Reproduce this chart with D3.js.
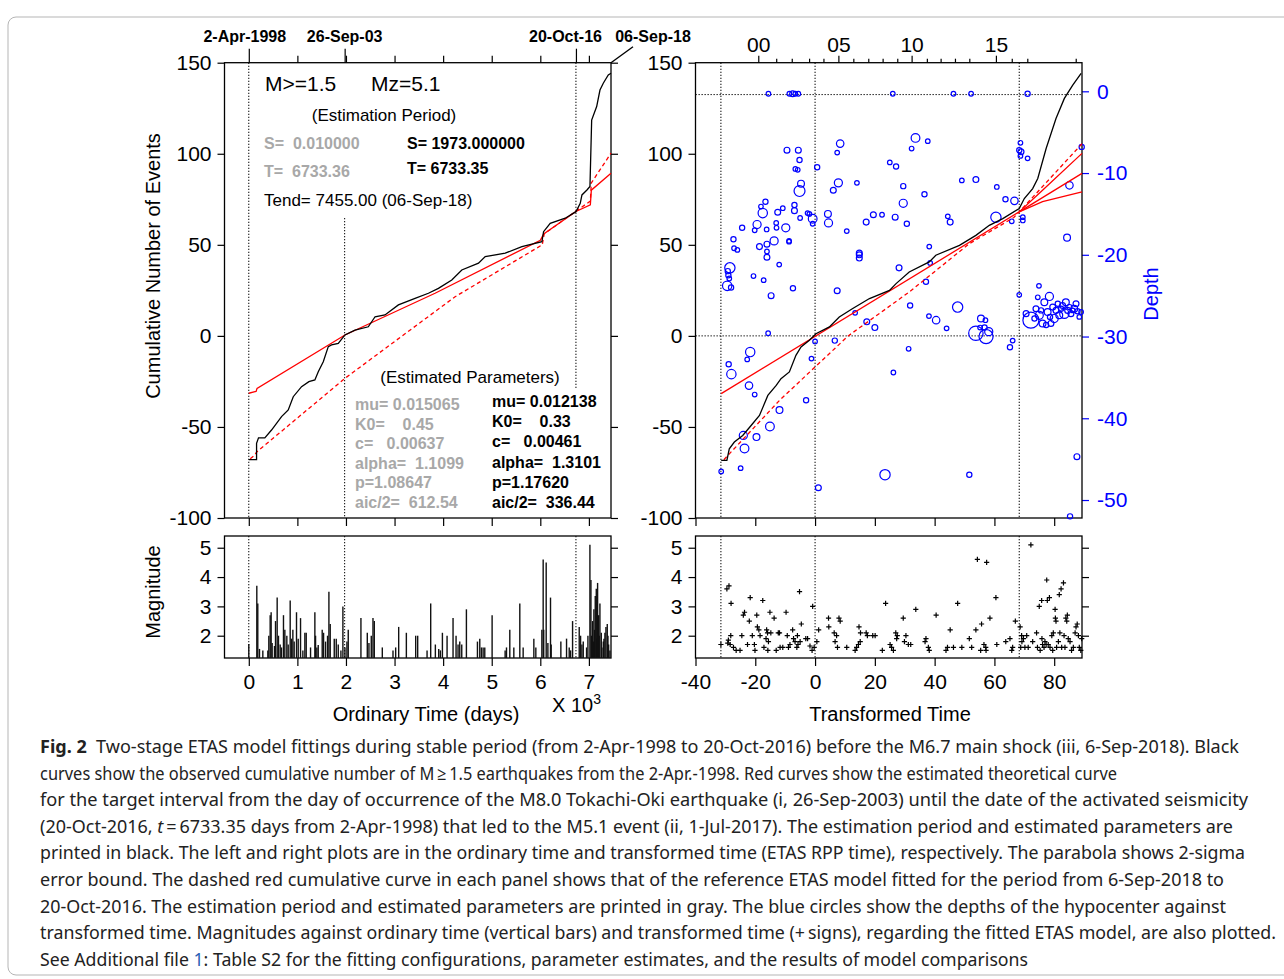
<!DOCTYPE html>
<html>
<head>
<meta charset="utf-8">
<script src="https://cdn.jsdelivr.net/npm/d3@7"></script>
<style>
body { margin: 0; background: #fff; }
svg { font-family: "Liberation Sans", Arial, Helvetica, sans-serif; }
.ax path.domain { display: none; }
.ax line { stroke: #000; stroke-width: 1.2; }
.ax text { font-size: 21px; fill: #000; font-family: "Liberation Sans", Arial, sans-serif; }
.pre { white-space: pre; }
</style>
</head>
<body>
<div id="chart"></div>
<script>

// --- DATA ---

// repères (jours depuis le 2-Apr-1998 / temps transformé)
const markDays = [0, 1973, 6733.35];
const markTau = [-31.5, 0, 68.3];
const refDepth = -0.4;

// axe du haut, temps ordinaire
const dayMinorTicks = [1000, 2000, 3000, 4000, 5000, 6000, 7000];
const dateTicks = [0, 1973, 6733.35];
const dateLabels = ["2-Apr-1998", "26-Sep-03", "20-Oct-16"];
const endDay = 7455;
const endLabel = "06-Sep-18";

// axe du haut, années en temps transformé
const yearTau = [-19.0, -13.0, -7.8, -2.0, 2.8, 7.8, 12.8, 17.8, 22.6, 27.5, 32.3, 37.4, 42.0, 46.8, 51.6, 60.5, 65.8, 71.0, 87.2];
const yearLabeled = { "-19": "00", "7.8": "05", "32.3": "10", "60.5": "15" };

// courbe cumulée observée (temps ordinaire)
const obsDays = [0, 160, 160, 200, 330, 468, 674, 812, 915, 1086, 1237, 1360, 1430, 1533, 1636, 1704, 1842, 1979, 2185, 2460, 2599, 2803, 3079, 3422, 3697, 3903, 4178, 4384, 4728, 4866, 5278, 5621, 6033, 6067, 6204, 6513, 6733, 6822, 6857, 6960, 7022, 7057, 7160, 7228, 7296, 7399, 7455];
const obsCount = [-68, -68, -59, -56, -56, -51.7, -44.3, -40.7, -33.4, -27.9, -25.1, -24.2, -19.7, -14.2, -5.9, -5, -4.1, 0.5, 3.2, 5, 10.5, 11.5, 17, 20.6, 23.4, 26.1, 30.7, 36.2, 39.9, 43.5, 45.4, 49, 51.7, 57.2, 61.8, 64.6, 68.2, 72.8, 77.4, 80.1, 82, 118.5, 125.9, 135, 138.7, 143.3, 144.2];

// ETAS théorique (rouge plein) et référence (rouge pointillé), temps ordinaire
const fitDays = [0, 150, 170, 1979, 3834, 6000, 6070, 6733, 7030, 7050, 7455];
const fitCount = [-31.5, -30.5, -28.8, 0.5, 23.4, 52.5, 56, 68.3, 72, 80, 89.3];
const refDays = [30, 100, 170, 1979, 4246, 6040, 6080, 6733, 7030, 7050, 7455];
const refCount = [-67.5, -66, -63.6, -23.3, 21.5, 50, 56, 68.5, 74, 84, 100.3];

// courbe cumulée observée (temps transformé)
const obsTau = [-31.4, -29.5, -28.7, -27, -24.2, -21.4, -18.6, -15.8, -13, -11.4, -8.6, -6.4, -4.7, -1.9, 0.3, 4.8, 8.1, 12.6, 18.2, 24.9, 27.1, 31.5, 38.2, 40.4, 48.3, 53.8, 58.3, 62.8, 68.3, 70, 72.8, 74.5, 77.3, 80.6, 83.4, 86.2, 89.0];
const obsCountTau = [-68.4, -68.4, -62, -58.3, -54.7, -49.2, -43.7, -32.7, -27.2, -23.5, -19.8, -10.7, -6.1, -2.4, 1.2, 4.9, 10.4, 15, 20.5, 25, 28.7, 35.1, 40.6, 44.3, 49.7, 55.2, 60.7, 64.4, 69.9, 75.4, 80.9, 86.4, 102.9, 119.4, 130.4, 137.7, 144.1];

// droite théorique, bornes 2-sigma et référence (temps transformé)
const fitTau = [-31.4, 68.3];
const fitTauCount = [-31.7, 68.1];
const upperTau = [68.3, 76.1, 89.3];
const upperCount = [68.1, 80, 100.2];
const midTau = [68.3, 89.3];
const midCount = [68.1, 89.2];
const lowerTau = [68.3, 76.1, 89.3];
const lowerCount = [68.1, 73.7, 79.1];
const refTau = [-30.5, -29.2, -11.7, 11.1, 31.5, 51.6, 66.5, 68.3, 89.3];
const refTauCount = [-68, -65.7, -35.1, 0, 24.1, 50.6, 65, 68.1, 105.5];

// magnitudes en temps ordinaire (barres)
const barDays = [0, 165, 185, 220, 289, 392, 412, 440, 460, 481, 529, 550, 584, 611, 646, 673, 714, 742, 783, 811, 852, 879, 907, 934, 982, 1017, 1065, 1113, 1154, 1182, 1271, 1360, 1374, 1401, 1429, 1511, 1539, 1580, 1621, 1649, 1676, 1759, 1800, 1841, 1896, 1937, 1979, 2020, 2047, 2308, 2439, 2473, 2521, 2556, 2583, 2748, 2968, 3023, 3085, 3243, 3435, 3476, 3669, 3744, 3840, 3909, 3943, 3985, 4081, 4204, 4266, 4307, 4342, 4383, 4479, 4706, 4754, 4788, 4823, 4857, 5008, 5276, 5304, 5372, 5455, 5578, 5647, 5867, 5908, 6032, 6059, 6070, 6121, 6156, 6210, 6224, 6423, 6540, 6595, 6623, 6664, 6801, 6829, 6856, 6884, 6952, 6980, 7021, 7042, 7056, 7076, 7090, 7103, 7117, 7131, 7152, 7166, 7179, 7200, 7213, 7227, 7255, 7268, 7296, 7310, 7330, 7351, 7378, 7392, 7406, 7433];
const barMag = [1.72, 3.7, 3.1, 1.55, 1.5, 1.5, 2.0, 2.7, 2.8, 1.75, 1.65, 2.5, 3.3, 2.0, 1.7, 1.6, 2.7, 2.2, 2.0, 1.7, 3.2, 1.9, 2.2, 1.8, 2.8, 1.9, 2.6, 1.5, 2.1, 2.1, 1.6, 2.8, 2.0, 1.6, 1.68, 2.2, 2.1, 1.8, 2.0, 3.5, 2.4, 1.9, 1.9, 1.7, 1.5, 3.0, 1.6, 1.8, 2.2, 2.6, 2.1, 1.75, 2.0, 2.6, 2.5, 1.6, 1.5, 1.6, 2.3, 2.1, 2.0, 2.0, 1.5, 3.1, 1.7, 1.55, 1.5, 2.1, 2.0, 2.6, 2.0, 1.7, 1.8, 1.7, 2.9, 1.8, 1.9, 1.6, 1.6, 1.6, 2.7, 1.5, 1.6, 2.2, 1.6, 3.1, 1.6, 1.9, 1.6, 2.2, 4.6, 2.2, 4.5, 1.75, 3.3, 1.7, 1.8, 1.9, 1.6, 1.5, 2.5, 2.3, 2.0, 1.7, 1.8, 1.6, 2.0, 5.1, 3.9, 2.0, 2.5, 1.8, 2.9, 2.2, 3.35, 3.6, 1.9, 3.8, 2.7, 2.0, 3.1, 2.1, 1.6, 1.8, 1.9, 2.1, 2.3, 2.4, 2.0, 1.7, 1.5];

// magnitudes en temps transformé (+)
const plusTau = [-31.5, -29.5, -28.8, -28.1, -28.2, -29.0, -29.2, -28.4, -27.3, -26.4, -25.1, -24.5, -24.0, -23.6, -22.6, -22.0, -21.7, -21.0, -20.3, -20.1, -19.5, -19.3, -18.8, -18.4, -17.5, -17.1, -16.4, -16.2, -15.9, -15.8, -15.6, -15.1, -14.8, -13.7, -13.0, -12.3, -11.9, -11.7, -10.8, -9.7, -9.3, -8.9, -8.4, -7.5, -7.2, -6.7, -6.1, -5.9, -5.7, -5.2, -5.0, -4.6, -3.1, -2.5, -1.7, -1.0, -0.8, -0.3, 0.6, 1.2, 4.5, 4.6, 6.4, 6.7, 7.2, 7.5, 8.0, 8.4, 10.6, 13.4, 13.9, 14.5, 14.7, 15.1, 15.2, 17.1, 17.5, 19.3, 20.1, 22.5, 23.6, 25.1, 25.6, 26.2, 27.0, 27.3, 27.5, 29.5, 29.9, 30.4, 31.2, 32.0, 33.7, 36.8, 37.1, 37.9, 38.2, 40.5, 43.8, 44.3, 45.2, 46.3, 47.7, 49.1, 51.6, 52.4, 53.8, 54.3, 55.4, 55.7, 56.5, 57.1, 57.2, 57.4, 58.5, 60.5, 60.8, 63.8, 65.2, 65.8, 66.1, 67.0, 68.6, 68.8, 69.1, 69.2, 69.7, 70.2, 70.8, 71.3, 72.2, 72.8, 74.1, 74.4, 75.0, 75.3, 75.8, 75.9, 76.1, 76.6, 76.9, 77.3, 77.5, 77.7, 78.0, 78.4, 78.6, 79.2, 79.5, 79.7, 80.3, 80.4, 80.6, 80.8, 81.4, 81.7, 81.9, 82.3, 82.5, 83.1, 83.3, 83.6, 83.9, 84.2, 84.4, 84.7, 85.3, 85.8, 86.4, 87.0, 87.3, 87.7, 88.1, 88.4, 88.9, 89.2];
const plusMag = [1.7, 3.6, 3.7, 3.1, 2.0, 1.85, 1.75, 1.7, 1.6, 1.5, 1.5, 2.0, 2.7, 2.8, 1.7, 2.5, 3.3, 2.0, 1.7, 1.5, 2.7, 2.3, 2.2, 2.0, 3.2, 1.6, 1.9, 2.2, 2.1, 1.5, 1.8, 2.8, 2.1, 2.6, 1.5, 2.1, 2.1, 1.6, 1.6, 2.8, 2.0, 1.6, 1.7, 2.2, 1.9, 1.8, 1.6, 2.0, 1.7, 3.5, 1.8, 2.4, 1.9, 1.9, 1.65, 1.5, 3.0, 1.6, 1.8, 2.2, 2.6, 2.3, 2.1, 1.8, 2.0, 1.6, 2.6, 2.5, 1.6, 1.5, 1.6, 1.7, 2.3, 1.8, 2.1, 2.1, 2.0, 2.0, 2.0, 1.5, 3.1, 1.7, 1.6, 1.5, 2.1, 1.9, 2.0, 2.6, 1.8, 2.0, 1.7, 1.7, 2.9, 1.8, 1.9, 1.6, 1.5, 2.7, 1.5, 1.6, 2.2, 1.6, 3.1, 1.6, 1.9, 1.6, 2.2, 4.6, 1.5, 2.4, 1.7, 1.6, 1.5, 4.5, 2.6, 3.3, 1.7, 1.8, 1.9, 1.5, 1.6, 2.5, 2.3, 1.6, 2.0, 1.8, 1.9, 1.6, 2.0, 1.6, 5.1, 1.8, 2.1, 1.6, 3.0, 1.5, 3.2, 1.9, 1.7, 1.6, 1.8, 1.7, 3.9, 3.2, 1.7, 3.3, 1.6, 2.0, 1.5, 2.1, 2.9, 2.6, 2.5, 1.6, 1.8, 3.4, 2.1, 3.6, 1.6, 3.8, 2.0, 1.6, 2.6, 2.5, 2.7, 1.9, 1.8, 1.5, 1.6, 2.1, 2.3, 2.4, 2.0, 1.6, 1.5, 1.9];

// profondeurs des hypocentres (cercles) : temps transformé, profondeur, magnitude
const circTau = [-15.6, -8.6, -7.5, -6.6, -5.6, 26.0, 46.3, 52.2, 71.1, 33.6, 8.4, 37.7, -9.4, -5.6, 7.4, 32.3, -5.2, -6.6, -5.8, 0.7, 25.0, 27.1, 68.7, 68.3, 68.9, 68.7, 71.1, -4.7, -5.2, 7.8, 6.1, 14.0, 29.5, 36.6, 49.1, 53.8, 60.8, 85.1, 63.7, 66.7, -16.6, -18.1, -17.5, -12.5, -10.8, -6.9, -6.9, -5.0, -2.5, -1.9, -0.8, -0.8, 4.3, 4.5, 19.5, 22.4, 26.8, 29.5, 30.7, 17.1, 10.6, 44.4, 45.2, 60.5, 65.8, 69.5, 69.5, -24.4, -20.2, -19.4, -16.2, -13.0, -12.9, -9.8, -27.3, -27.1, -26.0, -18.6, -16.1, -13.7, -16.1, -16.1, -8.7, -8.7, -12.0, 38.2, 84.3, 14.8, 14.8, 14.8, -28.5, -29.2, -29.0, -28.7, -29.4, -28.1, -20.6, -17.2, -14.7, -7.4, 7.4, 28.1, 38.5, 37.1, 31.8, 47.7, 38.1, 40.5, 44.0, 55.5, 57.0, 53.8, 57.2, 58.1, 56.7, 55.2, 68.3, 74.9, 72.2, 70.6, 73.9, 74.5, 75.0, 76.7, 78.4, 77.8, 79.5, 80.0, 80.6, 81.7, 82.3, 82.8, 83.4, 83.9, 84.5, 85.1, 85.6, 86.2, 87.3, 87.8, 89.0, 76.1, 78.9, 77.3, 73.4, 81.2, 86.7, 88.4, 75.6, 78.6, -15.7, 0.0, 6.6, 17.3, 20.0, 13.4, 66.1, 65.2, 31.3, -21.7, -22.7, -28.9, -28.0, -1.2, 26.2, -22.1, -20.2, -3.0, -11.9, -24.0, -19.6, -15.1, -23.6, -31.4, -24.9, 1.1, 23.4, 51.6, 87.6, 85.3, 89.2];
const circDepth = [-0.3, -0.3, -0.3, -0.3, -0.3, -0.3, -0.3, -0.3, -0.3, -5.7, -6.4, -6.1, -7.2, -7.2, -7.5, -7.0, -8.4, -9.5, -9.6, -9.3, -8.7, -9.2, -6.3, -7.2, -7.4, -7.9, -8.2, -11.3, -12.2, -11.2, -12.1, -11.2, -11.6, -12.6, -10.9, -10.8, -11.7, -11.5, -13.2, -13.4, -13.5, -14.1, -14.9, -14.8, -14.3, -13.9, -14.6, -15.5, -14.9, -15.0, -15.6, -16.2, -15.0, -16.1, -15.1, -15.1, -15.4, -13.7, -16.2, -16.0, -17.1, -15.3, -16.0, -15.4, -15.9, -15.4, -15.8, -16.7, -17.0, -16.3, -16.9, -16.1, -16.7, -16.7, -18.1, -19.2, -19.4, -19.0, -18.7, -18.3, -19.6, -20.3, -18.3, -18.4, -21.2, -19.0, -17.9, -19.8, -20.0, -20.4, -21.6, -22.0, -22.5, -22.9, -23.8, -24.0, -22.6, -23.1, -25.0, -24.1, -24.4, -21.6, -21.0, -23.3, -26.2, -26.4, -27.5, -28.0, -29.0, -27.8, -28.0, -29.6, -30.0, -29.4, -28.9, -28.9, -24.9, -23.8, -28.0, -27.2, -26.6, -25.2, -27.4, -25.8, -25.1, -27.0, -26.4, -27.8, -26.8, -27.4, -26.6, -26.2, -27.2, -25.8, -26.8, -26.4, -27.2, -26.8, -26.0, -26.9, -27.0, -28.4, -28.4, -28.6, -27.8, -26.0, -26.6, -27.6, -26.8, -27.6, -29.6, -30.6, -30.5, -28.2, -28.9, -27.1, -30.5, -31.3, -31.5, -31.9, -32.8, -33.4, -34.6, -32.7, -34.4, -36.0, -37.1, -37.8, -39.0, -42.1, -42.3, -41.0, -43.7, -46.5, -46.1, -48.5, -46.9, -46.9, -44.7, -52.0, -6.8];
const circMag = [1.5, 1.5, 1.9, 1.5, 1.5, 1.5, 1.5, 1.5, 1.7, 2.8, 2.4, 1.5, 1.9, 1.9, 1.5, 1.5, 1.7, 1.5, 1.5, 1.7, 1.5, 1.7, 1.5, 1.7, 1.9, 1.5, 1.5, 2.2, 3.5, 2.6, 1.9, 1.5, 1.7, 1.7, 1.5, 1.9, 1.5, 2.4, 1.7, 2.4, 1.7, 1.5, 3.0, 1.9, 1.5, 1.7, 1.9, 1.5, 1.5, 1.5, 2.8, 1.5, 2.2, 2.6, 1.9, 1.5, 1.9, 2.6, 1.7, 1.9, 1.5, 1.5, 1.9, 3.3, 1.5, 1.5, 1.5, 1.7, 1.5, 2.6, 1.5, 1.5, 1.5, 2.6, 1.7, 1.5, 1.5, 1.9, 1.9, 2.6, 1.5, 1.9, 1.5, 1.5, 1.5, 1.5, 2.2, 1.9, 1.9, 1.9, 3.3, 1.7, 1.7, 1.5, 3.0, 1.7, 1.5, 1.5, 1.9, 1.7, 1.9, 1.9, 1.5, 1.7, 1.7, 3.3, 1.5, 2.4, 1.5, 2.2, 1.5, 4.6, 4.5, 2.6, 1.7, 1.5, 1.5, 1.5, 5.1, 1.9, 1.9, 1.5, 2.6, 2.2, 2.6, 2.2, 1.9, 2.6, 1.9, 2.2, 1.7, 1.9, 3.0, 2.2, 1.9, 1.7, 1.9, 1.5, 1.9, 1.7, 1.5, 2.2, 1.9, 1.7, 1.7, 1.7, 2.2, 1.5, 1.7, 1.7, 1.5, 1.5, 1.7, 1.9, 1.9, 1.5, 1.5, 1.7, 1.5, 3.0, 1.5, 1.7, 3.0, 1.5, 1.5, 2.4, 1.5, 1.7, 2.2, 2.6, 2.2, 2.8, 2.8, 1.5, 1.5, 1.9, 3.3, 1.7, 1.9, 1.7, 1.7];

// graduations
const cumTicks = [-100, -50, 0, 50, 100, 150];
const magTicks = [2, 3, 4, 5];
const depthTicks = [0, -10, -20, -30, -40, -50];
const dayTicks = [0, 1000, 2000, 3000, 4000, 5000, 6000, 7000];
const tauTicks = [-40, -20, 0, 20, 40, 60, 80];

// textes des paramètres
const estimGray = ["S=  0.010000", "T=  6733.36"];
const estimBlack = ["S= 1973.000000", "T= 6733.35"];
const paramGray = ["mu= 0.015065", "K0=    0.45", "c=   0.00637", "alpha=  1.1099", "p=1.08647", "aic/2=  612.54"];
const paramBlack = ["mu= 0.012138", "K0=    0.33", "c=   0.00461", "alpha=  1.3101", "p=1.17620", "aic/2=  336.44"];

// légende de la figure
const captionLines = [
    [["Fig. 2", "b"], ["  Two-stage ETAS model fittings during stable period (from 2-Apr-1998 to 20-Oct-2016) before the M6.7 main shock (iii, 6-Sep-2018). Black"]],
    [["curves show the observed cumulative number of M\u2009\u2265\u20091.5 earthquakes from the 2-Apr.-1998. Red curves show the estimated theoretical curve"]],
    [["for the target interval from the day of occurrence of the M8.0 Tokachi-Oki earthquake (i, 26-Sep-2003) until the date of the activated seismicity"]],
    [["(20-Oct-2016, "], ["t", "i"], ["\u2009=\u20096733.35 days from 2-Apr-1998) that led to the M5.1 event (ii, 1-Jul-2017). The estimation period and estimated parameters are"]],
    [["printed in black. The left and right plots are in the ordinary time and transformed time (ETAS RPP time), respectively. The parabola shows 2-sigma"]],
    [["error bound. The dashed red cumulative curve in each panel shows that of the reference ETAS model fitted for the period from 6-Sep-2018 to"]],
    [["20-Oct-2016. The estimation period and estimated parameters are printed in gray. The blue circles show the depths of the hypocenter against"]],
    [["transformed time. Magnitudes against ordinary time (vertical bars) and transformed time (+\u2009signs), regarding the fitted ETAS model, are also plotted."]],
    [["See Additional file "], ["1", "l"], [": Table S2 for the fitting configurations, parameter estimates, and the results of model comparisons"]]
];
const captionEnds = [1239, 1117, 1248, 1233, 1245, 1224, 1226, 1276, 1028];


// --- CONSTRUCTION ---

const svg = d3.select("#chart").append("svg")
    .attr("width", 1284)
    .attr("height", 979);

// cadre de la légende
svg.append("rect")
    .attr("x", 8).attr("y", 17).attr("width", 1290).attr("height", 958)
    .attr("rx", 8)
    .attr("fill", "none").attr("stroke", "#b5b5b5").attr("stroke-width", 1);

// Échelles
const panelL = {x0: 224.5, x1: 611};
const panelR = {x0: 695.5, x1: 1082};
const rowTop = {y0: 62.7, y1: 518};
const rowBot = {y0: 536, y1: 658};

const xDay = d3.scaleLinear().domain([-500, endDay]).range([panelL.x0, panelL.x1]);
const xTau = d3.scaleLinear().domain([-40, 89.3]).range([panelR.x0, panelR.x1]);
const yCum = d3.scaleLinear().domain([-100, 150]).range([rowTop.y1, rowTop.y0]);
const yMag = d3.scaleLinear().domain([1.24, 5.4]).range([rowBot.y1, rowBot.y0]);
const yDepth = d3.scaleLinear().domain([-52.2, 3.5]).range([rowTop.y1, rowTop.y0]);
const rMag = d3.scaleLinear().domain([1.5, 5.1]).range([2.3, 8]);

const zip = (a, b) => a.map((v, i) => [v, b[i]]);
const plain = d => String(d);   // trait d'union simple comme signe moins

/**
 * Ajoute un axe avec le style commun
 */
function addAxis(gen, tx, ty, color) {
    const g = svg.append("g").attr("class", "ax")
        .attr("transform", "translate(" + tx + "," + ty + ")")
        .call(gen);
    if (color) {
        g.selectAll("line").style("stroke", color);
        g.selectAll("text").style("fill", color);
    }
    return g;
}

function frame(x0, x1, y0, y1) {
    svg.append("rect")
        .attr("x", x0).attr("y", y0)
        .attr("width", x1 - x0).attr("height", y1 - y0)
        .attr("fill", "none").attr("stroke", "#000").attr("stroke-width", 1.3);
}

function dotted(x1, y1, x2, y2) {
    svg.append("line")
        .attr("x1", x1).attr("y1", y1).attr("x2", x2).attr("y2", y2)
        .attr("stroke", "#000").attr("stroke-width", 1)
        .attr("stroke-dasharray", "1.3,1.7");
}

// --- Axes panneau gauche ---
addAxis(d3.axisLeft(yCum).tickValues(cumTicks).tickSize(7).tickPadding(6).tickFormat(plain).tickSizeOuter(0), panelL.x0, 0);
addAxis(d3.axisRight(yCum).tickValues(cumTicks).tickSize(7).tickFormat("").tickSizeOuter(0), panelL.x1, 0);
addAxis(d3.axisBottom(xDay).tickValues(dayTicks).tickSize(8).tickFormat("").tickSizeOuter(0), 0, rowTop.y1);
addAxis(d3.axisLeft(yMag).tickValues(magTicks).tickSize(7).tickPadding(6).tickFormat(plain).tickSizeOuter(0), panelL.x0, 0);
addAxis(d3.axisRight(yMag).tickValues(magTicks).tickSize(7).tickFormat("").tickSizeOuter(0), panelL.x1, 0);
addAxis(d3.axisBottom(xDay).tickValues(dayTicks).tickSize(8).tickPadding(8).tickFormat(d => String(d / 1000)).tickSizeOuter(0), 0, rowBot.y1);

// axe des dates en haut
addAxis(d3.axisTop(xDay).tickValues(dayMinorTicks).tickSize(7).tickFormat("").tickSizeOuter(0), 0, rowTop.y0);
addAxis(d3.axisTop(xDay).tickValues(dateTicks).tickSize(14).tickFormat("").tickSizeOuter(0), 0, rowTop.y0);
svg.append("line")
    .attr("x1", xDay(endDay)).attr("y1", rowTop.y0)
    .attr("x2", xDay(endDay) + 22).attr("y2", rowTop.y0 - 16)
    .attr("stroke", "#000").attr("stroke-width", 1.4);
const dateAnchor = ["middle", "middle", "end"];
const dateDx = [-4, 0, 26];
dateTicks.forEach((d, i) => {
    svg.append("text")
        .attr("x", xDay(d) + dateDx[i]).attr("y", 42)
        .attr("text-anchor", dateAnchor[i])
        .attr("font-size", 16).attr("font-weight", "bold")
        .text(dateLabels[i]);
});
svg.append("text")
    .attr("x", xDay(endDay) + 42).attr("y", 42)
    .attr("text-anchor", "middle")
    .attr("font-size", 16).attr("font-weight", "bold")
    .text(endLabel);

// --- Axes panneau droit ---
addAxis(d3.axisLeft(yCum).tickValues(cumTicks).tickSize(7).tickPadding(6).tickFormat(plain).tickSizeOuter(0), panelR.x0, 0);
addAxis(d3.axisRight(yDepth).tickValues(depthTicks).tickSize(7).tickPadding(8).tickFormat(plain).tickSizeOuter(0), panelR.x1, 0, "#0000ff");
addAxis(d3.axisBottom(xTau).tickValues(tauTicks).tickSize(8).tickFormat("").tickSizeOuter(0), 0, rowTop.y1);
addAxis(d3.axisLeft(yMag).tickValues(magTicks).tickSize(7).tickPadding(6).tickFormat(plain).tickSizeOuter(0), panelR.x0, 0);
addAxis(d3.axisRight(yMag).tickValues(magTicks).tickSize(7).tickFormat("").tickSizeOuter(0), panelR.x1, 0);
addAxis(d3.axisBottom(xTau).tickValues(tauTicks).tickSize(8).tickPadding(8).tickFormat(plain).tickSizeOuter(0), 0, rowBot.y1);

// axe des années en haut
const labeledTau = yearTau.filter(t => yearLabeled[String(t)]);
addAxis(d3.axisTop(xTau).tickValues(yearTau.filter(t => !yearLabeled[String(t)])).tickSize(4).tickFormat("").tickSizeOuter(0), 0, rowTop.y0);
addAxis(d3.axisTop(xTau).tickValues(labeledTau).tickSize(7).tickPadding(4).tickFormat(t => yearLabeled[String(t)]).tickSizeOuter(0), 0, rowTop.y0);

// --- Cadres ---
frame(panelL.x0, panelL.x1, rowTop.y0, rowTop.y1);
frame(panelL.x0, panelL.x1, rowBot.y0, rowBot.y1);
frame(panelR.x0, panelR.x1, rowTop.y0, rowTop.y1);
frame(panelR.x0, panelR.x1, rowBot.y0, rowBot.y1);

// --- Lignes pointillées de repère ---
// gauche : le texte masque une partie des lignes
dotted(xDay(markDays[0]), rowTop.y0, xDay(markDays[0]), rowTop.y1);
dotted(xDay(markDays[1]), 218, xDay(markDays[1]), rowTop.y1);
dotted(xDay(markDays[2]), rowTop.y0, xDay(markDays[2]), 388);
markDays.forEach(d => dotted(xDay(d), rowBot.y0, xDay(d), rowBot.y1));
// droite
markTau.forEach(t => {
    dotted(xTau(t), rowTop.y0, xTau(t), rowTop.y1);
    dotted(xTau(t), rowBot.y0, xTau(t), rowBot.y1);
});
dotted(panelR.x0, yCum(0), panelR.x1, yCum(0));
dotted(panelR.x0, yDepth(refDepth), panelR.x1, yDepth(refDepth));

// --- Courbes ---
function curve(xs, ys, xScale, color, dash) {
    const line = d3.line().x(d => xScale(d[0])).y(d => yCum(d[1]));
    svg.append("path")
        .datum(zip(xs, ys))
        .attr("d", line)
        .attr("fill", "none")
        .attr("stroke", color)
        .attr("stroke-width", 1.3)
        .attr("stroke-dasharray", dash ? "4,3" : null);
}

curve(refDays, refCount, xDay, "#ff0000", true);
curve(fitDays, fitCount, xDay, "#ff0000", false);
curve(obsDays, obsCount, xDay, "#000", false);

// cercles de profondeur (dessinés sous les courbes)
svg.append("g").selectAll("circle")
    .data(d3.range(circTau.length))
    .join("circle")
    .attr("cx", i => xTau(circTau[i]))
    .attr("cy", i => yDepth(circDepth[i]))
    .attr("r", i => rMag(circMag[i]))
    .attr("fill", "none")
    .attr("stroke", "#0000ff")
    .attr("stroke-width", 1.2);

curve(refTau, refTauCount, xTau, "#ff0000", true);
curve(fitTau, fitTauCount, xTau, "#ff0000", false);
curve(upperTau, upperCount, xTau, "#ff0000", false);
curve(midTau, midCount, xTau, "#ff0000", false);
curve(lowerTau, lowerCount, xTau, "#ff0000", false);
curve(obsTau, obsCountTau, xTau, "#000", false);

// barres de magnitude
svg.append("g").selectAll("line")
    .data(zip(barDays, barMag))
    .join("line")
    .attr("x1", d => xDay(d[0])).attr("x2", d => xDay(d[0]))
    .attr("y1", yMag.range()[0]).attr("y2", d => yMag(d[1]))
    .attr("stroke", "#111").attr("stroke-width", 1.4);

// signes +
svg.append("g").selectAll("path")
    .data(zip(plusTau, plusMag))
    .join("path")
    .attr("transform", d => "translate(" + xTau(d[0]) + "," + yMag(d[1]) + ")")
    .attr("d", "M-2.6,0H2.6M0,-2.6V2.6")
    .attr("stroke", "#000").attr("stroke-width", 1.2);

// --- Textes du panneau gauche ---
function txt(x, y, s, size, opts) {
    opts = opts || {};
    return svg.append("text")
        .attr("class", "pre")
        .attr("x", x).attr("y", y)
        .attr("font-size", size)
        .attr("font-weight", opts.bold ? "bold" : null)
        .attr("fill", opts.fill || "#000")
        .attr("text-anchor", opts.anchor || "start")
        .text(s);
}

txt(265, 91, "M>=1.5", 21);
txt(371, 91, "Mz=5.1", 21);
txt(384, 121, "(Estimation Period)", 17, {anchor: "middle"});
estimGray.forEach((s, i) => txt(264, 149 + i * 28, s, 16, {bold: true, fill: "#a8a8a8"}));
estimBlack.forEach((s, i) => txt(407, 149 + i * 25, s, 16, {bold: true}));
txt(264, 206, "Tend= 7455.00 (06-Sep-18)", 17);
txt(470, 383, "(Estimated Parameters)", 17, {anchor: "middle"});
paramGray.forEach((s, i) => txt(355, 410 + i * 19.6, s, 16, {bold: true, fill: "#a8a8a8"}));
paramBlack.forEach((s, i) => txt(492, 407 + i * 20.2, s, 16, {bold: true}));

// --- Titres des axes ---
txt(426, 721, "Ordinary Time (days)", 20, {anchor: "middle"});
txt(890, 721, "Transformed Time", 20, {anchor: "middle"});
const xten = txt(552, 712, "X 10", 20);
xten.append("tspan").attr("dy", -8).attr("font-size", 14).text("3");
svg.append("text")
    .attr("transform", "translate(160,266) rotate(-90)")
    .attr("text-anchor", "middle").attr("font-size", 20)
    .text("Cumulative Number of Events");
svg.append("text")
    .attr("transform", "translate(160,592) rotate(-90)")
    .attr("text-anchor", "middle").attr("font-size", 20)
    .text("Magnitude");
svg.append("text")
    .attr("transform", "translate(1158,294) rotate(-90)")
    .attr("text-anchor", "middle").attr("font-size", 20)
    .attr("fill", "#0000ff")
    .text("Depth");

// --- Légende ---
captionLines.forEach((parts, i) => {
    const t = svg.append("text")
        .attr("class", "pre")
        .attr("x", 40).attr("y", 753 + i * 26.6)
        .attr("font-family", "'Noto Sans', 'Open Sans', sans-serif")
        .attr("font-size", 18)
        .attr("fill", "#222")
        .attr("textLength", captionEnds[i] - 40)
        .attr("lengthAdjust", "spacingAndGlyphs");
    parts.forEach(p => {
        t.append("tspan")
            .attr("font-weight", p[1] === "b" ? "bold" : null)
            .attr("font-style", p[1] === "i" ? "italic" : null)
            .attr("fill", p[1] === "l" ? "#2b5fb4" : null)
            .text(p[0]);
    });
});

</script>
</body>
</html>
